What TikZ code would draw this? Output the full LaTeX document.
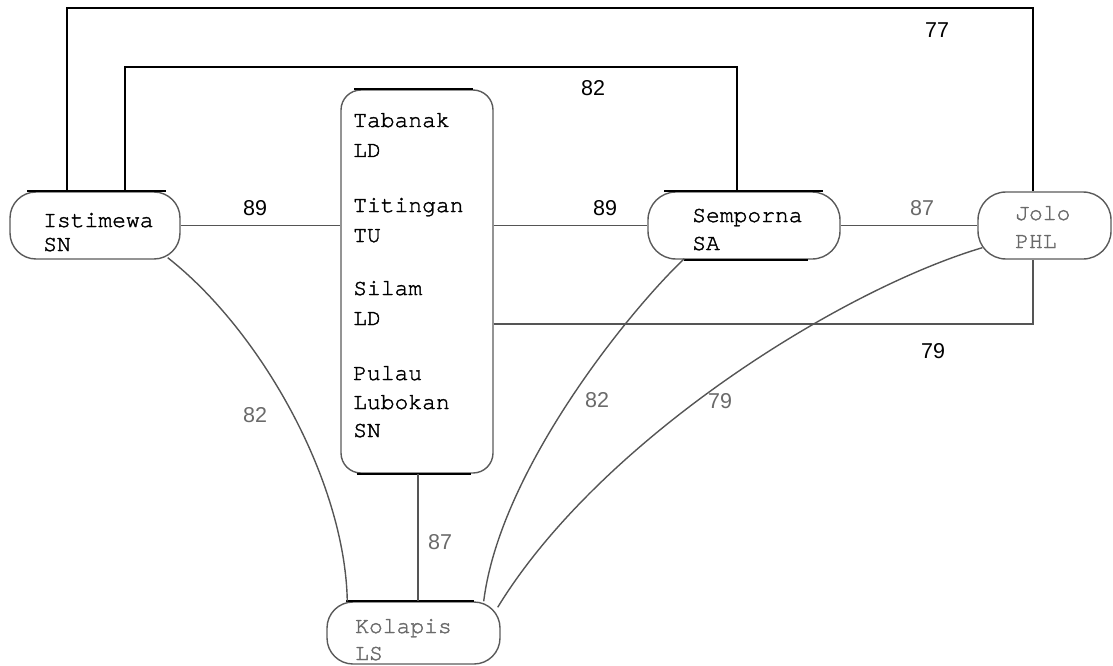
\documentclass[tikz,border=0pt]{standalone}
\usepackage{fontspec}
\newfontfamily\monof[FakeBold=1.6]{TeX Gyre Cursor}
\newfontfamily\numf{Liberation Sans}
\definecolor{boxgray}{HTML}{5A5A5A}
\definecolor{linegray}{HTML}{555555}
\definecolor{txtgray}{HTML}{6A6A6A}
\begin{document}
\begin{tikzpicture}[x=1pt,y=-1pt,
  box/.style={draw=boxgray, line width=1.4pt, inner sep=0pt, rounded corners=#1},
  txt/.style={anchor=base west, inner sep=0pt, font=\monof\fontsize{23}{28}\selectfont},
  gtxt/.style={txt, text=txtgray},
  num/.style={inner sep=0pt, font=\numf\fontsize{21.5}{24}\selectfont},
  gnum/.style={num, text=txtgray},
  blk/.style={draw=black, line width=1.8pt},
  conn/.style={draw=linegray, line width=1.4pt},
  topline/.style={draw=black, line width=2pt}]
\useasboundingbox (0,0) rectangle (1113,666);

% boxes
\node[box=26pt, minimum width=170pt, minimum height=67pt] (ist) at (95,225.5) {};
\node[box=20pt, minimum width=152pt, minimum height=383pt] (mid) at (417,281.5) {};
\node[box=28pt, minimum width=192pt, minimum height=67pt] (sem) at (744,225.5) {};
\node[box=28pt, minimum width=133pt, minimum height=67pt] (jolo) at (1044.5,225.5) {};
\node[box=26pt, minimum width=173pt, minimum height=62pt] (kol) at (413.5,633) {};

% black top/bottom strokes of boxes
\draw[topline] ([xshift=18pt]ist.north west) -- ([xshift=-15pt]ist.north east);
\draw[topline] ([xshift=14pt]mid.north west) -- ([xshift=-21pt]mid.north east);
\draw[topline] ([xshift=17pt]mid.south west) -- ([xshift=-23pt]mid.south east);
\draw[topline] ([xshift=17pt]sem.north west) -- ([xshift=-18pt]sem.north east);
\draw[topline] ([xshift=37pt]sem.south west) -- ([xshift=-33pt]sem.south east);
\draw[topline] ([xshift=20pt]kol.north west) -- ([xshift=-27pt]kol.north east);

% texts
\node[txt] (t_ist1) at (43,227) {Istimewa};
\node[txt] (t_ist2) at (43,251) {SN};
\node[txt] (t_m1) at (353,127) {Tabanak};
\node[txt] (t_m2) at (353,157) {LD};
\node[txt] (t_m3) at (353,212) {Titingan};
\node[txt] (t_m4) at (353,242) {TU};
\node[txt] (t_m5) at (353,295) {Silam};
\node[txt] (t_m6) at (353,325) {LD};
\node[txt] (t_m7) at (353,380) {Pulau};
\node[txt] (t_m8) at (353,409) {Lubokan};
\node[txt] (t_m9) at (353,437) {SN};
\node[txt] (t_sem1) at (692,222) {Semporna};
\node[txt] (t_sem2) at (692,250) {SA};
\node[gtxt] (t_jolo1) at (1015,220) {Jolo};
\node[gtxt] (t_jolo2) at (1015,248) {PHL};
\node[gtxt] (t_kol1) at (355,633) {Kolapis};
\node[gtxt] (t_kol2) at (355,660) {LS};

% bend points
\coordinate (f1) at (67,8);
\coordinate (f2) at (1033,8);
\coordinate (g1) at (125,67);
\coordinate (g2) at (737,67);
\coordinate (h1) at (1033,324);
\coordinate (kx) at (418,540);

% frame connectors
\draw[blk] (ist.north -| f1) -- (f1) -- (f2) -- (jolo.north -| f2);
\draw[blk] (ist.north -| g1) -- (g1) -- (g2) -- (sem.north -| g2);
\draw[conn] (mid.east |- h1) -- (h1) -- (jolo.south -| h1);

% straight connectors
\draw[conn] (ist.east) -- (ist.east -| mid.west);
\draw[conn] (mid.east |- sem.west) -- (sem.west);
\draw[conn] (sem.east) -- (jolo.west);
\draw[conn] (mid.south -| kx) -- (kol.north -| kx);

% curved connectors
\draw[conn] ([xshift=-13pt,yshift=2pt]ist.south east) .. controls (260,330) and (345,480) .. ([xshift=21pt]kol.north west);
\draw[conn] ([xshift=37pt,yshift=1pt]sem.south west) .. controls (630,310) and (500,470) .. ([xshift=-17pt]kol.north east);
\draw[conn] ([xshift=5pt,yshift=12pt]jolo.south west) .. controls (840,290) and (600,440) .. ([xshift=-3pt,yshift=-6pt]kol.north east);

% labels
\node[num] (l77) at (937,30) {77};
\node[num] (l82t) at (593,88) {82};
\node[num] (l89a) at (255,208) {89};
\node[num] (l89b) at (605,208) {89};
\node[gnum] (l87a) at (922,208) {87};
\node[num] (l79a) at (933,351) {79};
\node[gnum] (l82a) at (255,415) {82};
\node[gnum] (l82b) at (597,400) {82};
\node[gnum] (l79b) at (720,401) {79};
\node[gnum] (l87b) at (440,542) {87};
\end{tikzpicture}
\end{document}
